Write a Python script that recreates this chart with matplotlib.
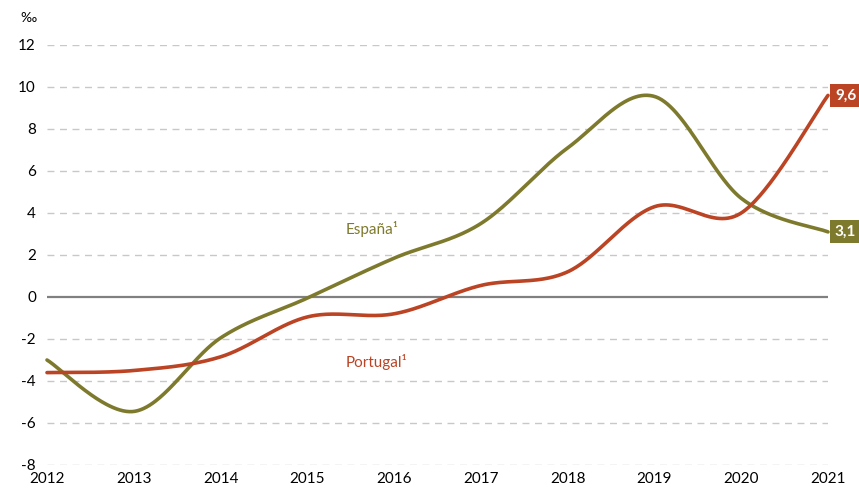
import numpy as np
import matplotlib
matplotlib.use("Agg")
import matplotlib.pyplot as plt

plt.rcParams['font.family'] = ['Lato', 'DejaVu Sans']

years = [2012, 2013, 2014, 2015, 2016, 2017, 2018, 2019, 2020, 2021]
espana = [-3.0, -5.45, -1.95, -0.05, 1.85, 3.5, 7.1, 9.55, 4.7, 3.1]
portugal = [-3.6, -3.5, -2.85, -0.95, -0.8, 0.55, 1.2, 4.3, 4.0, 9.6]
yticks = list(range(-8, 13, 2))

def smooth(xs, ys, n=60):
    xs = np.asarray(xs, float); ys = np.asarray(ys, float)
    px = np.concatenate([[xs[0]], xs, [xs[-1]]])
    py = np.concatenate([[ys[0]], ys, [ys[-1]]])
    ox, oy = [], []
    for i in range(1, len(px)-2):
        t = np.linspace(0, 1, n, endpoint=False)
        for arr, out in ((px, ox), (py, oy)):
            p0, p1, p2, p3 = arr[i-1], arr[i], arr[i+1], arr[i+2]
            c1 = p1 + (p2 - p0) / 6.0
            c2 = p2 - (p3 - p1) / 6.0
            out.extend((1-t)**3*p1 + 3*(1-t)**2*t*c1 + 3*(1-t)*t**2*c2 + t**3*p2)
    ox.append(xs[-1]); oy.append(ys[-1])
    return np.array(ox), np.array(oy)

c_es = '#7e7a2d'
c_pt = '#bb4424'

fig = plt.figure(figsize=(8.59, 4.91), dpi=100)
ax = fig.add_axes([47/859, 1-465/491, (828-47)/859, (465-45)/491])
ax.set_xlim(2012, 2021)
ax.set_ylim(-8, 12)
for s in ax.spines.values():
    s.set_visible(False)
for yv in yticks:
    if yv != 0:
        ax.axhline(yv, color='#c8c8c8', lw=1, ls=(0, (5, 4)), zorder=1)
ax.axhline(0, color='#808080', lw=1.6, zorder=2)

sx, sy = smooth(years, espana)
ax.plot(sx, sy, color=c_es, lw=2.6, solid_capstyle='round', clip_on=False, zorder=3)
sx, sy = smooth(years, portugal)
ax.plot(sx, sy, color=c_pt, lw=2.6, solid_capstyle='round', clip_on=False, zorder=4)

ax.set_xticks(years)
ax.set_xticklabels([str(v) for v in years], fontsize=11)
ax.set_yticks(yticks)
ax.set_yticklabels([str(v) for v in yticks], fontsize=11)
ax.tick_params(length=0, pad=8)
ax.tick_params(axis='x', pad=5)

fig.text(28/859, 1-18/491, '‰', fontsize=10, ha='center', va='center')

ax.text(2015.75, 3.25, 'España¹', color=c_es, fontsize=11, ha='center', va='center')
ax.text(2015.8, -3.1, 'Portugal¹', color=c_pt, fontsize=11, ha='center', va='center')

for val, col in ((portugal[-1], c_pt), (espana[-1], c_es)):
    ax.annotate(f"{val:.1f}".replace('.', ','), xy=(2021, val), xytext=(5, 0),
                textcoords='offset points', ha='left', va='center', fontsize=11,
                fontweight='bold', color='white', annotation_clip=False,
                bbox=dict(boxstyle='square,pad=0.3', fc=col, ec='none'))

fig.savefig('out.png', dpi=100)
